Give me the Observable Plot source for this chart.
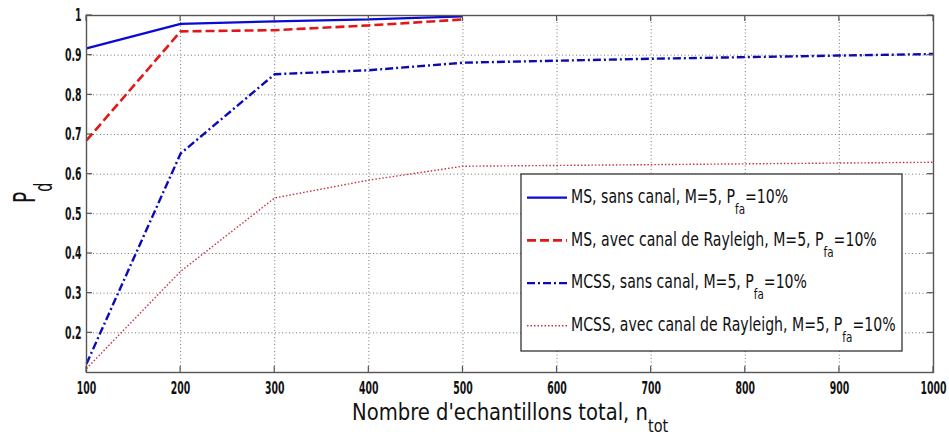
<!DOCTYPE html>
<html><head><meta charset="utf-8">
<script src="https://cdn.jsdelivr.net/npm/d3@7"></script>
<script src="https://cdn.jsdelivr.net/npm/@observablehq/plot@0.6"></script>
<style>
body{margin:0;background:#fff}
</style>
</head><body><div id="chart"></div>
<script>
const nTot = [100,200,300,400,500,600,700,800,900,1000];
const msSans = [0.917,0.979,0.985,0.99,0.998];
const msRay = [0.685,0.96,0.963,0.975,0.99];
const mcssSans = [0.122,0.652,0.852,0.862,0.881,0.886,0.891,0.895,0.899,0.903];
const mcssRay = [0.11,0.355,0.54,0.585,0.62,0.622,0.624,0.626,0.628,0.63];
const seriesNames = [
  "MS, sans canal, M=5, P",
  "MS, avec canal de Rayleigh, M=5, P",
  "MCSS, sans canal, M=5, P",
  "MCSS, avec canal de Rayleigh, M=5, P"
];
const xTicks = [100,200,300,400,500,600,700,800,900,1000];
const yTicks = [0.2,0.3,0.4,0.5,0.6,0.7,0.8,0.9,1];
const xLabel = "Nombre d'echantillons total, n";
const xLabelSub = "tot";
const yLabel = "P";
const yLabelSub = "d";

const FONT = "'DejaVu Sans',sans-serif";
const styles = [
  {stroke:"#0a0ad0", strokeWidth:2.2, strokeDasharray:null},
  {stroke:"#e01818", strokeWidth:2.6, strokeDasharray:"9,4"},
  {stroke:"#0a0ab8", strokeWidth:2.4, strokeDasharray:"8,3,2,3"},
  {stroke:"#c83040", strokeWidth:1.4, strokeDasharray:"1.5,2"}
];
const allSeries = [msSans, msRay, mcssSans, mcssRay];
const rows = allSeries.map((vals) => vals.map((v,i) => ({x:nTot[i], y:v})));

const W = 949, H = 439;
const chart = Plot.plot({
  width: W, height: H,
  marginLeft: 86, marginRight: 16, marginTop: 15, marginBottom: 67,
  style: {fontFamily: FONT, background: "#fff"},
  x: {domain:[100,1000], label:null},
  y: {domain:[0.1,1], label:null},
  marks: [
    Plot.gridX(xTicks.slice(1,-1), {stroke:"#777", strokeOpacity:1, strokeDasharray:"1,2.5"}),
    Plot.gridY(yTicks.slice(0,-1), {stroke:"#777", strokeOpacity:1, strokeDasharray:"1,2.5"}),
    ...rows.map((r,i) => Plot.line(r, {x:"x", y:"y", stroke:styles[i].stroke, strokeWidth:styles[i].strokeWidth, strokeDasharray:styles[i].strokeDasharray, strokeLinejoin:"miter", strokeLinecap:"butt"})),
    Plot.frame({stroke:"#555", strokeWidth:1.4}),
    Plot.axisX(xTicks, {tickSize:0, tickPadding:9, fontSize:18, fontWeight:"bold", tickFormat:d=>String(d), fill:"#111", label:null}),
    Plot.axisY(yTicks, {tickSize:0, tickPadding:5, fontSize:18, fontWeight:"bold", tickFormat:d=> d===1 ? "1" : d.toFixed(1), fill:"#111", label:null})
  ]
});
document.getElementById("chart").appendChild(chart);

const svg = d3.select(chart);
// condense tick labels horizontally
svg.selectAll('g[aria-label="x-axis tick label"] text, g[aria-label="y-axis tick label"] text').each(function(){
  const t = this.getAttribute("transform") || "";
  this.setAttribute("transform", t + " scale(0.52,1)");
});

const sx = chart.scale("x"), sy = chart.scale("y");
const x0 = sx.apply(100), x1 = sx.apply(1000), y0 = sy.apply(0.1), y1 = sy.apply(1);
const tk = 6;
const g = svg.append("g").attr("stroke","#555").attr("stroke-width",1.2);
xTicks.forEach(v => {
  const px = sx.apply(v);
  g.append("line").attr("x1",px).attr("x2",px).attr("y1",y0).attr("y2",y0-tk);
  g.append("line").attr("x1",px).attr("x2",px).attr("y1",y1).attr("y2",y1+tk);
});
yTicks.forEach(v => {
  const py = sy.apply(v);
  g.append("line").attr("x1",x0).attr("x2",x0+tk).attr("y1",py).attr("y2",py);
  g.append("line").attr("x1",x1).attr("x2",x1-tk).attr("y1",py).attr("y2",py);
});

// x label
const xlg = svg.append("g");
const xl = xlg.append("text").attr("x",0).attr("y",0)
  .attr("text-anchor","start").attr("font-size",23).attr("fill","#111");
const xMain = xl.append("tspan").text(xLabel);
xl.append("tspan").attr("dy",12).attr("font-size",17).text(xLabelSub);
const xs = 296 / xMain.node().getComputedTextLength();
xlg.attr("transform",`translate(352,420) scale(${xs},1)`);

// y label
const yl = svg.append("text").attr("transform",`translate(35,203) rotate(-90) scale(0.6,1)`)
  .attr("text-anchor","start").attr("font-size",31).attr("fill","#111");
yl.append("tspan").text(yLabel);
yl.append("tspan").attr("dy",17).attr("font-size",24).text(yLabelSub);

// legend
const lg = svg.append("g").attr("text-anchor","start");
lg.append("rect").attr("x",521).attr("y",174).attr("width",381).attr("height",177)
  .attr("fill","#fff").attr("stroke","#333").attr("stroke-width",1.3);
const texts = [];
seriesNames.forEach((name,i) => {
  const cy = 197.7 + i*42.7;
  lg.append("line").attr("x1",527).attr("x2",567).attr("y1",cy).attr("y2",cy)
    .attr("stroke",styles[i].stroke).attr("stroke-width",styles[i].strokeWidth)
    .attr("stroke-dasharray",styles[i].strokeDasharray);
  const t = lg.append("text").attr("x",0).attr("y",0).attr("font-size",19).attr("fill","#111").attr("text-anchor","start");
  t.append("tspan").text(name);
  t.append("tspan").attr("dy",11).attr("font-size",14).text("fa");
  t.append("tspan").attr("dy",-11).text("=10%");
  texts.push({t, base: 203 + i*42.7});
});
const ls = 306 / texts[1].t.node().getComputedTextLength();
texts.forEach(({t,base}) => t.attr("transform",`translate(571,${base}) scale(${ls},1)`));
</script></body></html>
